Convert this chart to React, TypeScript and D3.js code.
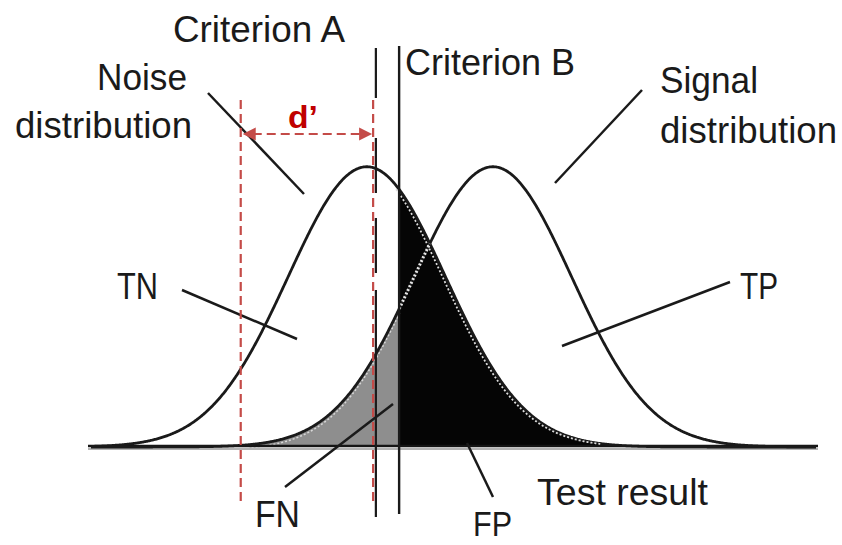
import React from 'react';
import * as d3 from 'd3';

// Test-result axis, in standard-deviation units of the noise distribution
const axisDomain = [-3.5, 5.7];
// Noise and signal distributions (normal)
const distributionNames = ['Noise', 'Signal'];
const distributionMeans = [0, 1.6];
const distributionSDs = [1, 1];
// Decision criteria on the test-result axis
const criterionNames = ['Criterion A', 'Criterion B'];
const criterionValues = [0.115, 0.41];
// Span marked as d'
const dPrimeSpan = [-1.6, 0.08];
const dPrimeLabel = 'd\u2019';
// Outcome region labels
const outcomeLabels = ['TN', 'FN', 'FP', 'TP'];
const axisTitle = 'Test result';

const normalPdf = (x: number, m: number, s: number) =>
  Math.exp(-0.5 * ((x - m) / s) ** 2) / (s * Math.sqrt(2 * Math.PI));

const W = 842;
const H = 545;
const FONT = '"Liberation Sans", Arial, sans-serif';
const INK = '#1a1a1a';
const RED = '#C44B48';

export default function App() {
  const x = d3.scaleLinear().domain(axisDomain).range([91, 816]);
  const y = d3.scaleLinear().domain([0, 0.4]).range([447, 166]);

  const [noiseMean, signalMean] = distributionMeans;
  const [noiseSD, signalSD] = distributionSDs;
  const noise = (v: number) => normalPdf(v, noiseMean, noiseSD);
  const signal = (v: number) => normalPdf(v, signalMean, signalSD);

  const step = 0.01;
  const samples = (a: number, b: number) => {
    const s = d3.range(a, b, step);
    s.push(b);
    return s;
  };
  const all = samples(axisDomain[0], axisDomain[1]);

  const line = (f: (v: number) => number) =>
    d3.line<number>().x((v) => x(v)).y((v) => y(f(v)));
  const area = (f: (v: number) => number) =>
    d3.area<number>().x((v) => x(v)).y0(y(0)).y1((v) => y(f(v)));

  const [critA, critB] = criterionValues;
  // crossing point of the two curves (equal spreads)
  const crossing = (noiseMean + signalMean) / 2;

  const fnArea = area(signal)(samples(axisDomain[0], critB)) || '';
  const fpArea = area(noise)(samples(critB, axisDomain[1])) || '';
  const noisePath = line(noise)(all) || '';
  const signalPath = line(signal)(all) || '';
  const signalInFP = line(signal)(samples(critB, crossing)) || '';
  const noiseEdgeFP = line(noise)(samples(critB, 3.0)) || '';
  const signalEdgeFN = line(signal)(samples(-1.5, critB)) || '';

  const xA = x(critA);
  const xB = x(critB);
  const xd0 = x(dPrimeSpan[0]);
  const xd1 = x(dPrimeSpan[1]);
  const arrowY = 134;

  const label = (
    t: string,
    px: number,
    py: number,
    len: number,
    size = 36,
    fill = INK,
    weight = 'normal'
  ) => (
    <text
      key={t + px + py}
      x={px}
      y={py}
      fontFamily={FONT}
      fontSize={size}
      fontWeight={weight}
      fill={fill}
      textLength={len}
      lengthAdjust="spacingAndGlyphs"
    >
      {t}
    </text>
  );

  const leader = (x1: number, y1: number, x2: number, y2: number) => (
    <line
      key={`${x1}-${y1}`}
      x1={x1}
      y1={y1}
      x2={x2}
      y2={y2}
      stroke={INK}
      strokeWidth={2.5}
    />
  );

  return (
    <svg
      width={W}
      height={H}
      viewBox={`0 0 ${W} ${H}`}
      style={{ position: 'absolute', left: 0, top: 0, background: '#fff' }}
    >
      <rect width={W} height={H} fill="#fff" />

      {/* outcome regions */}
      <path d={fnArea} fill="#8e8e8e" />
      <path d={fpArea} fill="#050505" />
      <path
        d={signalEdgeFN}
        fill="none"
        stroke="#d8d8d8"
        strokeWidth={1.5}
        strokeDasharray="2,2"
        transform="translate(1,3)"
      />

      {/* baseline */}
      <line x1={88} x2={818} y1={y(0) - 1} y2={y(0) - 1} stroke="#151515" strokeWidth={2.5} />
      <line x1={88} x2={818} y1={y(0) + 2} y2={y(0) + 2} stroke="#9a9a9a" strokeWidth={1.5} />

      {/* distributions */}
      <path d={noisePath} fill="none" stroke={INK} strokeWidth={2.8} />
      <path d={signalPath} fill="none" stroke={INK} strokeWidth={2.8} />
      <path d={signalInFP} fill="none" stroke="#e8e8e8" strokeWidth={3} strokeDasharray="2,2" />
      <path
        d={noiseEdgeFP}
        fill="none"
        stroke="#dcdcdc"
        strokeWidth={1.8}
        strokeDasharray="2,2"
        transform="translate(-3,0)"
      />

      {/* criteria */}
      <line
        x1={xA}
        x2={xA}
        y1={48}
        y2={517}
        stroke={INK}
        strokeWidth={2.2}
        strokeDasharray="50,40,55,25,55,17,230"
      />
      <line x1={xB} x2={xB} y1={46} y2={514} stroke={INK} strokeWidth={2.4} />
      {label(criterionNames[0], 173, 42, 172)}
      {label(criterionNames[1], 405, 75, 170)}

      {/* distribution labels */}
      {label(distributionNames[0], 97, 90, 90)}
      {label('distribution', 15, 138, 177)}
      {leader(208, 93, 304, 194)}
      {label(distributionNames[1], 660, 93, 98)}
      {label('distribution', 660, 143, 177)}
      {leader(642, 90, 555, 183)}

      {/* outcome labels */}
      {label(outcomeLabels[0], 117, 299, 41)}
      {leader(182, 290, 297, 339)}
      {label(outcomeLabels[1], 255, 527, 45)}
      {leader(285, 487, 393, 404)}
      {label(outcomeLabels[2], 473, 536, 39, 35)}
      {leader(467, 443, 493, 497)}
      {label(outcomeLabels[3], 740, 299, 38)}
      {leader(562, 346, 730, 282)}
      {label(axisTitle, 537, 505, 171)}

      {/* d' marker */}
      <g stroke={RED} strokeWidth={2.2} strokeDasharray="9,5" fill="none">
        <line x1={xd0} x2={xd0} y1={100} y2={502} />
        <line x1={xd1} x2={xd1} y1={100} y2={502} />
        <line x1={xd0 + 12} x2={xd1 - 12} y1={arrowY} y2={arrowY} />
      </g>
      <path
        d={`M${xd0 + 2},${arrowY} l13,-6.5 l0,13 Z M${xd1 - 1},${arrowY} l-13,-6.5 l0,13 Z`}
        fill={RED}
      />
      {label(dPrimeLabel, 288, 128, 30, 32, '#C00000', 'bold')}
    </svg>
  );
}
